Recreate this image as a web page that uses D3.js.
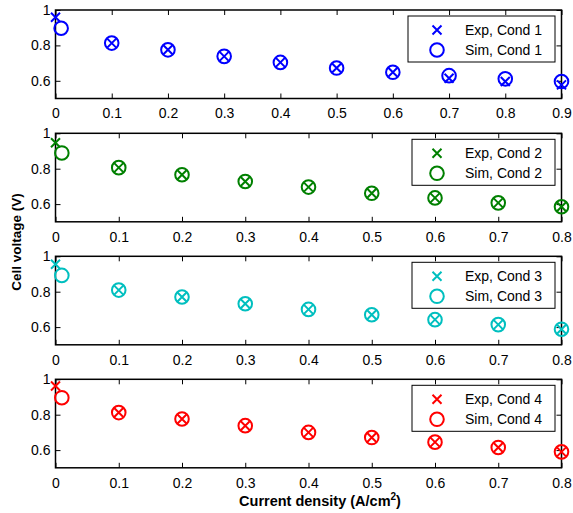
<!DOCTYPE html>
<html>
<head>
<meta charset="utf-8">
<script src="https://cdn.jsdelivr.net/npm/d3@7"></script>
<style>
  body { margin: 0; background: #fff; }
  text { font-family: "Liberation Sans", Arial, sans-serif; }
</style>
</head>
<body>
<div class="chartBox"></div>
<script>
// experimental points (x) and simulated points (o) for each condition
var xExp1 = [0, 0.1, 0.2, 0.3, 0.4, 0.5, 0.6, 0.7, 0.8, 0.9];
var xSim1 = [0.01, 0.1, 0.2, 0.3, 0.4, 0.5, 0.6, 0.7, 0.8, 0.9];
var xExp = [0, 0.1, 0.2, 0.3, 0.4, 0.5, 0.6, 0.7, 0.8];
var xSim = [0.01, 0.1, 0.2, 0.3, 0.4, 0.5, 0.6, 0.7, 0.8];

var exp1 = [0.959, 0.813, 0.775, 0.738, 0.704, 0.672, 0.648, 0.614, 0.596, 0.577];
var sim1 = [0.897, 0.813, 0.775, 0.738, 0.704, 0.672, 0.648, 0.629, 0.611, 0.596];
var exp2 = [0.947, 0.806, 0.766, 0.728, 0.696, 0.661, 0.635, 0.607, 0.585];
var sim2 = [0.889, 0.806, 0.766, 0.728, 0.696, 0.661, 0.635, 0.607, 0.585];
var exp3 = [0.955, 0.809, 0.770, 0.732, 0.700, 0.670, 0.642, 0.614, 0.588];
var sim3 = [0.892, 0.809, 0.770, 0.732, 0.700, 0.670, 0.642, 0.614, 0.588];
var exp4 = [0.962, 0.812, 0.776, 0.738, 0.700, 0.671, 0.645, 0.615, 0.590];
var sim4 = [0.896, 0.812, 0.776, 0.738, 0.700, 0.671, 0.645, 0.615, 0.590];

var xTicks1 = [0, 0.1, 0.2, 0.3, 0.4, 0.5, 0.6, 0.7, 0.8, 0.9];
var xTicks = [0, 0.1, 0.2, 0.3, 0.4, 0.5, 0.6, 0.7, 0.8];
var yTicks = [0.6, 0.8, 1];
var conds = ['Cond 1', 'Cond 2', 'Cond 3', 'Cond 4'];
var colors = ['#0000ff', '#008000', '#00bfbf', '#ff0000'];

var panels = [
  {xe: xExp1, ye: exp1, xs: xSim1, ys: sim1, xmax: 0.9, ticks: xTicks1, top: 10, legW: 147},
  {xe: xExp, ye: exp2, xs: xSim, ys: sim2, xmax: 0.8, ticks: xTicks, top: 133.3, legW: 143},
  {xe: xExp, ye: exp3, xs: xSim, ys: sim3, xmax: 0.8, ticks: xTicks, top: 256.3, legW: 143},
  {xe: xExp, ye: exp4, xs: xSim, ys: sim4, xmax: 0.8, ticks: xTicks, top: 379.3, legW: 143}
];

var w = 573, h = 513,
    left = 55.5, right = 561.5, ph = 88.5;

var canvas = d3.select('.chartBox')
  .append('svg')
  .attr('width', w)
  .attr('height', h);

function crossPath(s) {
  return 'M' + (-s) + ',' + (-s) + 'L' + s + ',' + s + 'M' + (-s) + ',' + s + 'L' + s + ',' + (-s);
}

panels.forEach(function(p, k) {
  var col = colors[k];
  var x = d3.scaleLinear().domain([0, p.xmax]).range([left, right]);
  var y = d3.scaleLinear().domain([0.5, 1]).range([p.top + ph, p.top]);
  var g = canvas.append('g');

  // frame with inward ticks on all sides
  g.append('rect')
    .attr('x', left).attr('y', p.top)
    .attr('width', right - left).attr('height', ph)
    .attr('fill', 'none').attr('stroke', '#000').attr('stroke-width', 1.5);

  var xb = g.append('g').attr('transform', 'translate(0,' + (p.top + ph) + ')')
    .call(d3.axisBottom(x).tickValues(p.ticks).tickSizeInner(-5).tickSizeOuter(0).tickPadding(10)
      .tickFormat(function(d) { return d === 0 ? '0' : d3.format('.1f')(d); }));
  var xt = g.append('g').attr('transform', 'translate(0,' + p.top + ')')
    .call(d3.axisTop(x).tickValues(p.ticks).tickSizeInner(-5).tickSizeOuter(0).tickFormat(''));
  var yl = g.append('g').attr('transform', 'translate(' + left + ',0)')
    .call(d3.axisLeft(y).tickValues(yTicks).tickSizeInner(-5).tickSizeOuter(0).tickPadding(5)
      .tickFormat(function(d) { return d === 1 ? '1' : d3.format('.1f')(d); }));
  var yr = g.append('g').attr('transform', 'translate(' + right + ',0)')
    .call(d3.axisRight(y).tickValues(yTicks).tickSizeInner(-5).tickSizeOuter(0).tickFormat(''));

  [xb, xt, yl, yr].forEach(function(a) {
    a.select('.domain').remove();
    a.selectAll('line').attr('stroke', '#000').attr('stroke-width', 1);
    a.selectAll('text').attr('font-size', 14).attr('fill', '#000')
      .attr('font-family', '"Liberation Sans", Arial, sans-serif');
  });

  // simulated circles
  g.selectAll('circle.sim')
    .data(p.ys)
    .enter()
    .append('circle')
    .attr('class', 'sim')
    .attr('cx', function(d, i) { return x(p.xs[i]); })
    .attr('cy', function(d) { return y(d); })
    .attr('r', 6.8)
    .attr('fill', 'none')
    .attr('stroke', col)
    .attr('stroke-width', 2);

  // experimental crosses
  g.selectAll('path.exp')
    .data(p.ye)
    .enter()
    .append('path')
    .attr('class', 'exp')
    .attr('transform', function(d, i) { return 'translate(' + x(p.xe[i]) + ',' + y(d) + ')'; })
    .attr('d', crossPath(4.5))
    .attr('stroke', col)
    .attr('stroke-width', 2)
    .attr('fill', 'none');

  // legend
  var lx = right - 6.5 - p.legW, ly = p.top + 6;
  var leg = g.append('g').attr('transform', 'translate(' + lx + ',' + ly + ')');
  leg.append('rect')
    .attr('width', p.legW).attr('height', 46)
    .attr('fill', '#fff').attr('stroke', '#000').attr('stroke-width', 1);
  var mx = p.legW - 118, tx = p.legW - 90;
  leg.append('path')
    .attr('transform', 'translate(' + mx + ',14)')
    .attr('d', crossPath(4.5))
    .attr('stroke', col).attr('stroke-width', 2).attr('fill', 'none');
  leg.append('circle')
    .attr('cx', mx).attr('cy', 34).attr('r', 6.8)
    .attr('fill', 'none').attr('stroke', col).attr('stroke-width', 2);
  leg.append('text').attr('x', tx).attr('y', 19).attr('font-size', 14)
    .text('Exp, ' + conds[k]);
  leg.append('text').attr('x', tx).attr('y', 39).attr('font-size', 14)
    .text('Sim, ' + conds[k]);
});

// axis titles
canvas.append('text')
  .attr('transform', 'translate(21,242) rotate(-90)')
  .attr('text-anchor', 'middle')
  .attr('font-size', 13.5)
  .attr('font-weight', 'bold')
  .text('Cell voltage (V)');

var xl = canvas.append('text')
  .attr('x', 320).attr('y', 506)
  .attr('text-anchor', 'middle')
  .attr('font-size', 14.5)
  .attr('font-weight', 'bold');
xl.append('tspan').text('Current density (A/cm');
xl.append('tspan').attr('dy', -6).attr('font-size', 10).text('2');
xl.append('tspan').attr('dy', 6).text(')');
</script>
</body>
</html>
